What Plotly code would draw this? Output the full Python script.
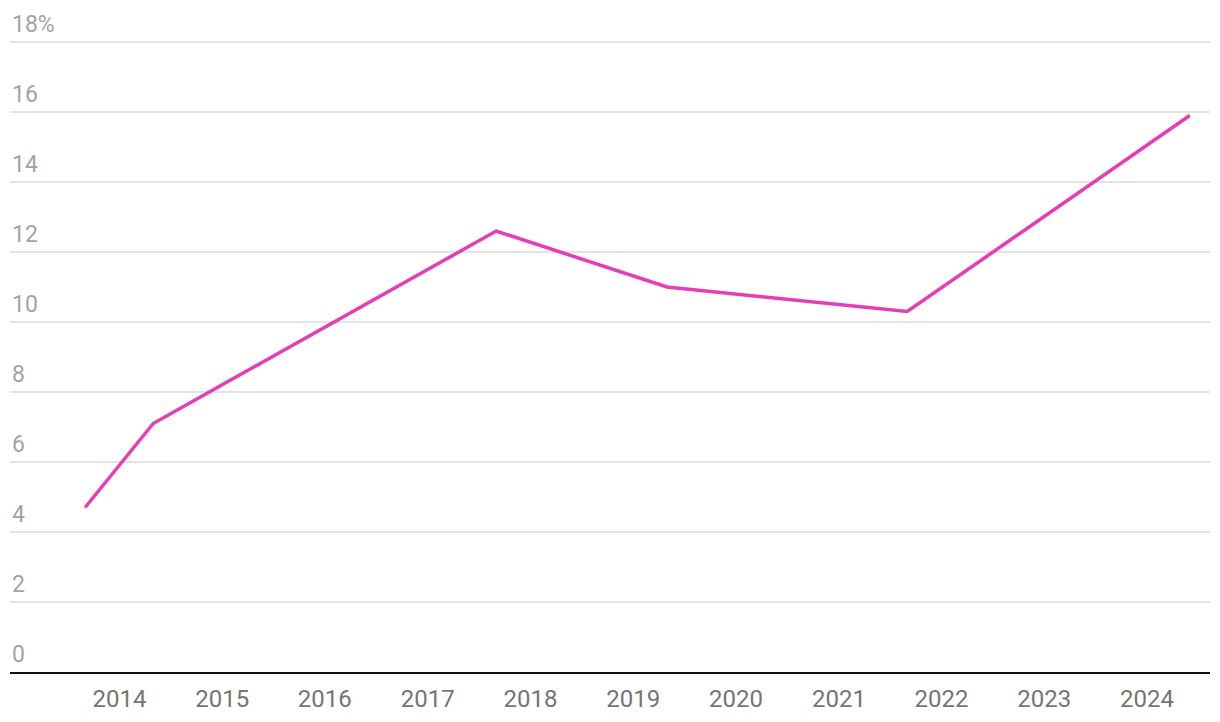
import plotly.graph_objects as go

dates = ["2013-09-01", "2014-05-01", "2017-09-01", "2019-05-01", "2021-09-01", "2024-06-01"]
values = [4.7, 7.1, 12.6, 11.0, 10.3, 15.9]

x_tick_vals = [f"{y}-01-01" for y in range(2014, 2025)]
x_tick_text = [str(y) for y in range(2014, 2025)]
y_tick_vals = [0, 2, 4, 6, 8, 10, 12, 14, 16, 18]
y_tick_text = ["0", "2", "4", "6", "8", "10", "12", "14", "16", "18%"]

fig = go.Figure()
fig.add_trace(go.Scatter(
    x=dates, y=values, mode="lines",
    line=dict(color="#e53db5", width=3.5),
    hoverinfo="skip", showlegend=False,
))

fig.update_layout(
    width=1212, height=714,
    margin=dict(l=2, r=10, t=33, b=50, autoexpand=False),
    paper_bgcolor="white", plot_bgcolor="white",
    font=dict(family="Roboto, sans-serif"),
    xaxis=dict(
        type="date", automargin=False,
        range=["2012-12-08", "2024-08-12"],
        tickvals=x_tick_vals, ticktext=x_tick_text,
        showgrid=False, zeroline=False,
        showline=True, linecolor="#111111", linewidth=2,
        ticks="", tickfont=dict(size=24, color="#757575"),
        ticklabelstandoff=4,
    ),
    yaxis=dict(
        range=[0, 18.03], automargin=False,
        tickvals=y_tick_vals, ticktext=y_tick_text,
        showgrid=True, gridcolor="#e3e3e3", gridwidth=1.5,
        zeroline=False, showline=False, ticks="",
        ticklabelposition="inside top", ticklabeloverflow="allow",
        tickfont=dict(size=23, color="#a3a3a3"),
        ticklabelstandoff=-1, ticklabelshift=-2,
    ),
)

fig.write_html("out.html")
